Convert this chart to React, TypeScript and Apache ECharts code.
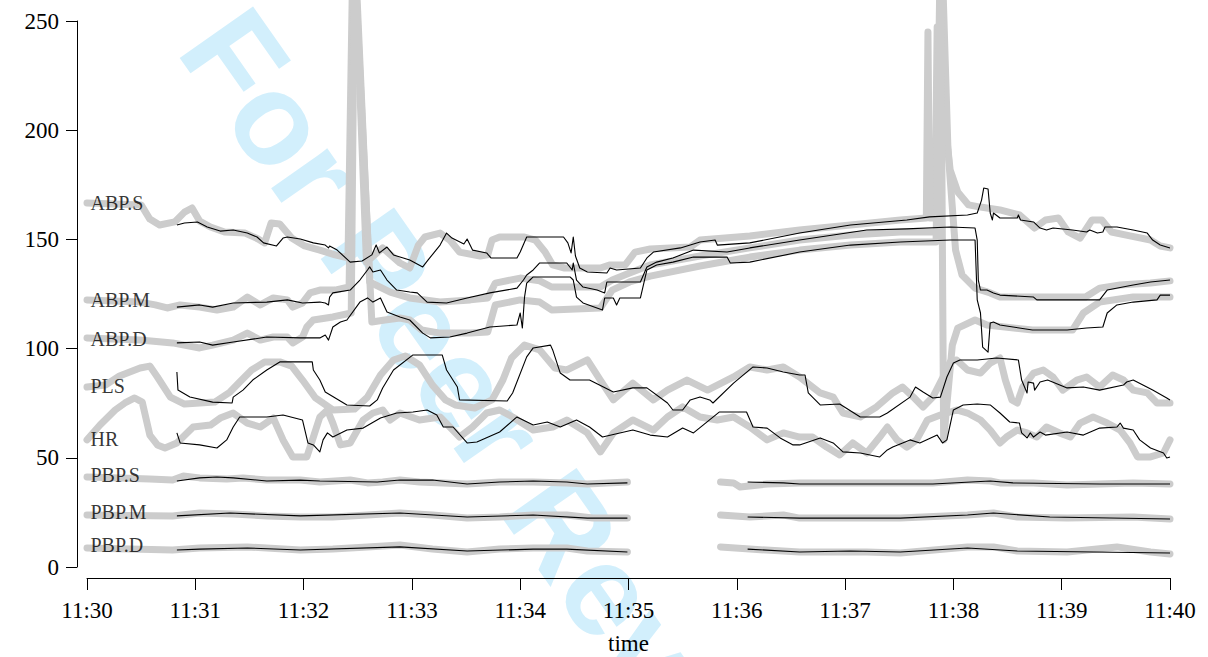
import React, { useEffect, useRef } from "react";
import * as echarts from "echarts";

// minutes after 11:30
const timeTickLabels = ["11:30", "11:31", "11:32", "11:33", "11:34", "11:35", "11:36", "11:37", "11:38", "11:39", "11:40"];
const seriesNames = ["ABP.S", "ABP.M", "ABP.D", "PLS", "HR", "PBP.S", "PBP.M", "PBP.D"];
const labelAnchors = [166.7, 122.3, 104.4, 82.7, 58.4, 41.9, 25.2, 10.1];

// ---- raw (gray) series: [minutes, value]
const abpSGray = [[0,166.7],[0.5,165.8],[0.58,159.3],[0.67,156.6],[0.81,158.0],[0.9,162.5],[0.97,164.4],[1.04,158.4],[1.14,155.7],[1.27,153.4],[1.46,152.9],[1.58,150.2],[1.64,148.4],[1.7,157.5],[1.78,157.1],[1.89,150.6],[2.01,147.0],[2.15,145.1],[2.29,142.9],[2.41,141.5],[2.46,296.2],[2.58,139.6],[2.73,146.1],[2.89,139.2],[2.98,136.9],[3.06,147.4],[3.12,151.1],[3.26,152.9],[3.35,149.7],[3.44,144.2],[3.63,142.4],[3.7,142.9],[3.74,149.7],[3.81,151.1],[4.04,151.1],[4.14,149.7],[4.23,144.2],[4.3,138.3],[4.41,136.9],[4.74,136.9],[4.83,138.3],[4.97,138.3],[5.06,144.2],[5.2,145.6],[5.57,146.5],[5.66,149.7],[6.12,151.6],[6.58,154.3],[7.05,156.6],[7.51,158.9],[7.75,159.8],[7.765,245.0],[7.78,159.8],[7.83,159.8],[7.85,247.3],[7.92,204.7],[7.97,181.8],[8.04,171.7],[8.14,165.8],[8.25,164.8],[8.43,163.5],[8.61,161.2],[8.75,155.2],[8.85,158.9],[8.97,159.8],[9.06,153.4],[9.17,150.6],[9.28,158.9],[9.37,158.9],[9.46,153.4],[9.63,151.6],[9.82,149.7],[9.91,147.0],[10,146.1]];
const abpMGray = [[0,122.3],[0.49,121.3],[0.63,120.0],[0.74,118.6],[0.86,120.0],[1.04,119.0],[1.2,117.7],[1.35,119.0],[1.48,123.6],[1.6,120.0],[1.72,123.2],[1.85,122.3],[1.9,119.0],[1.99,120.9],[2.06,125.5],[2.15,126.8],[2.29,126.8],[2.42,128.2],[2.47,287.1],[2.61,130.5],[2.8,125.9],[2.98,123.2],[3.26,121.3],[3.54,122.3],[3.7,123.2],[3.77,130.0],[4.0,132.3],[4.18,131.0],[4.29,128.2],[4.74,128.2],[4.85,131.4],[5.01,134.6],[5.2,138.3],[5.66,142.4],[6.12,146.1],[6.58,149.7],[7.05,152.0],[7.51,153.4],[7.85,153.4],[7.89,287.1],[7.95,190.9],[8.02,145.1],[8.08,133.7],[8.2,127.7],[8.34,125.5],[8.43,123.6],[9.22,123.6],[9.35,127.7],[9.54,129.1],[9.82,130.0],[10,131.0]];
const abpDGray = [[0,104.9],[0.49,103.9],[0.79,102.6],[1.04,100.3],[1.16,101.6],[1.35,103.9],[1.48,107.1],[1.6,103.9],[1.72,105.3],[1.85,105.3],[1.9,102.6],[1.99,105.3],[2.03,109.9],[2.09,113.1],[2.27,114.5],[2.44,116.3],[2.47,277.9],[2.63,112.2],[2.75,113.1],[2.89,114.0],[2.98,113.1],[3.09,108.5],[3.26,107.1],[3.54,107.1],[3.7,107.6],[3.77,120.0],[4.0,122.3],[4.18,121.3],[4.29,117.7],[4.74,118.6],[4.85,126.8],[5.01,130.5],[5.2,133.2],[5.66,137.8],[6.12,141.9],[6.58,145.1],[7.05,147.4],[7.51,148.8],[7.84,148.8],[7.88,287.1],[7.91,58.2],[7.99,101.6],[8.04,109.4],[8.2,113.1],[8.31,110.8],[8.73,108.5],[9.1,108.5],[9.2,116.3],[9.35,121.3],[9.66,123.6],[10,123.6]];
const plsGray = [[0,82.4],[0.17,83.3],[0.3,87.5],[0.49,91.1],[0.58,92.0],[0.65,87.0],[0.77,77.8],[0.9,74.6],[1.04,75.1],[1.18,75.5],[1.32,80.1],[1.41,84.7],[1.52,90.2],[1.64,93.9],[1.78,93.9],[1.89,92.0],[1.99,85.6],[2.11,77.4],[2.27,71.9],[2.47,72.3],[2.59,77.8],[2.71,87.9],[2.83,94.8],[2.94,96.6],[3.07,92.5],[3.19,83.3],[3.31,76.5],[3.4,74.2],[3.58,72.8],[3.74,76.5],[3.84,85.6],[3.92,95.7],[4.04,101.6],[4.18,99.4],[4.32,91.1],[4.43,90.2],[4.62,94.8],[4.74,85.6],[4.86,76.5],[5.04,84.2],[5.23,76.5],[5.36,81.0],[5.54,85.6],[5.73,81.0],[5.97,87.0],[6.12,91.6],[6.28,90.2],[6.43,91.6],[6.58,87.0],[6.77,79.7],[6.89,77.8],[6.98,70.5],[7.14,68.7],[7.29,73.3],[7.44,79.7],[7.53,82.4],[7.63,77.8],[7.72,73.3],[7.81,77.8],[7.9,86.5],[7.97,93.9],[8.03,94.8],[8.13,90.2],[8.25,88.8],[8.34,93.4],[8.43,95.7],[8.48,85.6],[8.54,76.5],[8.59,75.1],[8.64,82.4],[8.74,88.8],[8.83,90.2],[8.92,87.0],[9.01,81.0],[9.14,85.6],[9.23,87.0],[9.35,82.4],[9.47,87.9],[9.57,85.6],[9.66,81.0],[9.79,79.7],[9.88,75.1],[10,75.1]];
const hrGray = [[0,58.2],[0.12,65.0],[0.26,71.9],[0.35,75.1],[0.44,77.4],[0.51,75.5],[0.58,60.4],[0.65,55.9],[0.72,54.5],[0.83,56.8],[0.98,64.1],[1.14,65.0],[1.23,68.2],[1.35,70.5],[1.48,65.9],[1.6,64.1],[1.72,68.2],[1.81,58.2],[1.9,50.4],[2.03,50.4],[2.09,59.5],[2.15,68.7],[2.22,71.9],[2.27,65.9],[2.34,55.9],[2.43,56.8],[2.55,67.3],[2.64,70.5],[2.73,71.9],[2.8,67.3],[2.89,70.5],[3.07,67.3],[3.26,68.7],[3.44,59.5],[3.56,64.1],[3.69,70.5],[3.81,71.9],[3.93,68.7],[4.12,62.7],[4.3,64.1],[4.43,67.3],[4.62,61.4],[4.74,52.7],[4.86,61.4],[5.04,67.3],[5.23,62.7],[5.36,68.7],[5.5,73.3],[5.66,68.7],[5.82,67.3],[5.97,68.7],[6.12,64.1],[6.28,58.2],[6.43,61.4],[6.58,59.5],[6.7,59.5],[6.83,54.9],[6.95,51.3],[7.07,56.8],[7.2,52.2],[7.32,59.5],[7.39,64.1],[7.48,58.2],[7.57,54.9],[7.66,58.2],[7.76,67.3],[7.88,69.6],[8.03,71.9],[8.13,70.5],[8.25,67.3],[8.34,62.7],[8.43,56.8],[8.49,59.5],[8.59,62.7],[8.68,61.4],[8.77,59.5],[8.86,64.1],[8.98,61.4],[9.08,59.5],[9.17,65.9],[9.29,68.7],[9.42,65.9],[9.54,62.7],[9.63,56.8],[9.7,50.4],[9.82,50.4],[9.94,52.2],[10,58.2]];
const pbpSGrayA = [[0,41.2],[0.3,40.8],[0.58,40.3],[0.79,39.8],[0.89,41.7],[1.04,40.8],[1.29,40.3],[1.44,40.8],[1.66,39.8],[1.97,39.8],[2.15,38.9],[2.43,39.8],[2.59,38.5],[2.73,38.9],[2.89,39.8],[3.07,38.9],[3.29,38.5],[3.51,38.0],[3.81,38.9],[4.12,38.9],[4.43,38.5],[4.62,38.0],[4.8,38.5],[4.99,38.9]];
const pbpSGrayB = [[5.85,38.9],[5.97,38.5],[6.03,36.6],[6.28,38.0],[6.58,38.5],[7.05,38.5],[7.51,38.5],[7.81,38.5],[8.13,39.8],[8.34,39.4],[8.43,38.5],[8.74,38.5],[9.05,37.5],[9.35,38.0],[9.66,38.5],[10,38.0]];
const pbpMGrayA = [[0,23.8],[0.79,23.4],[1.04,24.7],[1.35,24.3],[1.66,23.4],[1.97,22.9],[2.27,22.9],[2.59,23.8],[2.89,24.7],[3.19,23.8],[3.51,22.4],[3.81,22.9],[4.12,23.8],[4.43,23.8],[4.67,22.4],[4.99,22.4]];
const pbpMGrayB = [[5.85,23.8],[6.12,22.9],[6.43,23.8],[6.58,22.4],[7.51,22.4],[8.13,23.8],[8.37,24.7],[8.59,22.9],[9.05,22.4],[9.66,22.9],[10,22.0]];
const pbpDGrayA = [[0,8.7],[0.79,7.8],[1.04,8.7],[1.48,9.2],[1.97,7.8],[2.27,8.2],[2.59,9.2],[2.89,10.1],[3.19,8.2],[3.51,6.9],[3.81,8.2],[4.12,8.7],[4.43,8.7],[4.62,7.3],[4.99,6.9]];
const pbpDGrayB = [[5.85,9.2],[6.12,8.2],[6.58,6.9],[7.2,6.9],[7.51,6.4],[8.13,9.2],[8.37,9.2],[8.59,7.3],[9.05,6.9],[9.51,9.2],[9.82,6.9],[10,6.0]];

// ---- estimated (black) series
const abpSBlack = [[0.83,156.6],[0.9,157.5],[1.02,158.0],[1.11,155.7],[1.23,153.8],[1.35,154.3],[1.48,152.9],[1.57,151.1],[1.63,148.4],[1.75,147.0],[1.81,150.6],[1.85,151.1],[1.97,150.2],[2.09,148.4],[2.2,147.4],[2.23,146.1],[2.24,147.0],[2.31,145.1],[2.43,139.6],[2.54,140.1],[2.63,142.9],[2.67,147.4],[2.7,143.8],[2.77,146.5],[2.83,142.9],[2.98,140.6],[3.1,137.4],[3.15,140.6],[3.26,147.4],[3.32,152.9],[3.37,150.6],[3.48,147.9],[3.51,150.2],[3.56,145.1],[3.69,143.8],[3.73,141.5],[3.97,141.5],[4.0,144.2],[4.06,151.1],[4.4,151.1],[4.44,148.4],[4.47,143.8],[4.49,151.1],[4.51,142.4],[4.55,136.9],[4.62,135.1],[4.8,134.6],[4.83,136.9],[4.89,136.0],[5.11,136.9],[5.17,141.5],[5.23,144.2],[5.48,146.1],[5.66,148.8],[5.8,149.7],[5.82,147.4],[6.12,148.4],[6.58,152.9],[7.05,156.6],[7.57,158.9],[7.78,160.3],[8.13,161.2],[8.22,162.1],[8.26,168.0],[8.28,173.5],[8.32,173.1],[8.34,162.1],[8.36,158.9],[8.37,162.1],[8.43,159.8],[8.59,159.8],[8.6,161.2],[8.62,158.9],[8.74,158.0],[8.8,155.2],[8.86,154.3],[8.92,155.2],[9.1,154.3],[9.23,153.4],[9.26,154.3],[9.33,152.9],[9.38,153.4],[9.4,155.7],[9.51,155.7],[9.66,154.3],[9.79,152.9],[9.84,149.7],[9.91,147.4],[10,146.1]];
const abpMBlack = [[0.83,119.0],[1.04,120.0],[1.16,119.0],[1.35,120.9],[1.66,121.3],[1.85,122.3],[1.99,120.9],[2.15,121.3],[2.2,120.9],[2.23,120.0],[2.24,123.6],[2.27,125.5],[2.43,126.8],[2.52,131.4],[2.59,136.0],[2.61,137.4],[2.64,135.1],[2.71,136.0],[2.77,131.4],[2.86,126.8],[2.98,125.9],[3.05,125.5],[3.14,121.3],[3.32,120.9],[3.51,123.2],[3.72,125.5],[3.97,127.7],[4.03,131.4],[4.06,133.7],[4.12,136.0],[4.18,139.2],[4.43,139.2],[4.48,136.0],[4.49,139.2],[4.52,131.4],[4.58,128.2],[4.71,126.8],[4.78,125.5],[4.8,130.5],[4.89,130.5],[5.11,130.5],[5.17,137.4],[5.26,139.6],[5.41,141.5],[5.6,145.1],[5.91,144.2],[6.12,146.1],[6.58,149.7],[6.89,152.0],[7.2,154.3],[7.57,154.8],[7.97,155.7],[8.2,155.2],[8.22,149.7],[8.23,131.4],[8.25,126.8],[8.31,126.8],[8.37,125.5],[8.43,124.5],[8.74,123.6],[8.77,122.3],[9.35,122.3],[9.42,126.8],[9.66,129.1],[9.82,130.5],[10,131.4]];
const abpDBlack = [[0.83,102.6],[1.04,103.0],[1.16,101.6],[1.35,103.0],[1.66,105.3],[1.97,104.9],[2.15,104.9],[2.2,106.2],[2.23,103.9],[2.27,109.9],[2.34,112.2],[2.4,113.1],[2.52,121.3],[2.59,123.2],[2.64,121.3],[2.71,123.2],[2.77,116.8],[2.89,114.5],[2.98,113.1],[3.1,107.1],[3.17,104.9],[3.35,105.3],[3.51,107.1],[3.72,109.9],[3.97,110.8],[4.0,116.3],[4.02,109.4],[4.04,123.6],[4.06,130.0],[4.09,131.4],[4.12,132.8],[4.46,132.8],[4.49,131.4],[4.52,123.6],[4.58,120.9],[4.76,117.7],[4.78,123.2],[4.86,123.2],[4.89,120.0],[4.92,123.2],[5.11,123.2],[5.17,136.0],[5.26,138.3],[5.41,139.6],[5.6,141.9],[5.91,141.9],[5.94,139.2],[6.12,139.6],[6.58,144.2],[7.05,147.4],[7.51,148.8],[7.97,149.7],[8.2,149.7],[8.22,122.3],[8.25,116.3],[8.27,100.7],[8.32,98.4],[8.34,111.7],[8.37,112.2],[8.43,110.8],[8.73,108.5],[9.05,108.5],[9.23,109.4],[9.38,109.9],[9.42,116.3],[9.51,120.0],[9.66,121.3],[9.88,122.3],[9.91,124.5],[10,124.5]];
const plsBlack = [[0.83,89.3],[0.84,81.0],[0.95,77.8],[1.16,75.5],[1.34,75.1],[1.35,77.8],[1.44,81.0],[1.53,85.6],[1.66,90.2],[1.78,93.9],[2.08,93.9],[2.09,90.2],[2.15,85.6],[2.2,80.1],[2.4,74.2],[2.61,73.7],[2.68,76.5],[2.73,82.0],[2.83,90.2],[3.01,97.1],[3.28,97.1],[3.32,90.2],[3.42,82.4],[3.44,76.5],[3.88,76.0],[3.93,79.7],[4.06,96.2],[4.12,100.3],[4.28,101.6],[4.3,99.4],[4.37,88.8],[4.46,85.6],[4.64,85.6],[4.86,80.1],[5.04,82.0],[5.17,82.0],[5.36,75.1],[5.41,71.9],[5.5,71.9],[5.57,76.5],[5.66,77.8],[5.75,76.5],[5.78,75.1],[5.97,84.2],[6.15,91.6],[6.28,91.1],[6.43,89.3],[6.58,87.9],[6.63,87.9],[6.66,79.7],[6.77,74.2],[6.95,74.6],[7.14,68.7],[7.32,68.7],[7.39,70.5],[7.6,77.8],[7.65,82.4],[7.72,80.1],[7.81,77.4],[7.88,77.8],[7.94,87.0],[8.0,93.4],[8.06,94.8],[8.22,94.8],[8.4,95.7],[8.6,94.8],[8.63,85.6],[8.68,79.7],[8.69,84.7],[8.74,84.2],[8.75,81.0],[8.8,84.7],[8.87,85.6],[9.05,82.0],[9.2,82.4],[9.35,81.0],[9.57,83.3],[9.6,84.7],[9.66,85.6],[9.84,81.0],[9.97,77.4],[10,76.5]];
const hrBlack = [[0.83,61.4],[0.86,56.8],[1.04,55.9],[1.2,54.5],[1.29,58.2],[1.35,64.1],[1.41,68.7],[1.66,68.7],[1.81,69.6],[1.99,67.3],[2.04,56.8],[2.09,55.9],[2.15,52.7],[2.18,58.2],[2.22,61.4],[2.27,59.5],[2.4,62.7],[2.55,63.6],[2.71,68.2],[2.86,70.5],[3.01,71.0],[3.14,71.9],[3.23,69.6],[3.29,64.1],[3.38,64.1],[3.51,56.8],[3.6,57.2],[3.81,61.8],[3.97,68.7],[4.12,65.0],[4.25,66.4],[4.37,64.1],[4.52,67.3],[4.64,64.1],[4.76,59.5],[5.04,62.7],[5.2,60.4],[5.36,59.5],[5.5,63.6],[5.6,61.4],[5.84,71.0],[6.09,71.0],[6.15,64.1],[6.28,63.6],[6.4,59.1],[6.52,55.9],[6.58,55.9],[6.77,59.1],[6.89,56.8],[6.98,52.7],[7.14,52.2],[7.32,50.4],[7.39,53.6],[7.44,54.9],[7.6,58.2],[7.69,56.8],[7.81,59.5],[7.85,60.4],[7.9,56.8],[7.94,58.2],[8.0,71.9],[8.09,74.2],[8.22,74.6],[8.34,74.2],[8.43,70.5],[8.52,66.4],[8.61,65.9],[8.63,61.4],[8.68,59.1],[8.71,61.4],[8.74,59.5],[8.8,61.8],[8.85,60.4],[9.05,61.8],[9.2,60.4],[9.35,63.6],[9.51,64.1],[9.54,65.9],[9.57,63.6],[9.66,62.7],[9.72,58.2],[9.82,54.5],[9.94,52.2],[9.97,49.9],[10,50.4]];
const pbpSBlackA = [[0.83,39.4],[1.04,40.8],[1.2,41.2],[1.35,40.8],[1.66,39.4],[1.97,39.8],[2.15,39.4],[2.68,38.9],[2.89,39.8],[3.19,39.8],[3.51,38.0],[3.81,38.9],[4.12,39.4],[4.43,38.9],[4.62,38.0],[4.99,38.5]];
const pbpSBlackB = [[6.1,38.9],[6.43,38.5],[6.58,38.0],[7.05,38.0],[7.81,38.0],[8.34,39.4],[8.55,38.5],[9.35,38.0],[10,38.0]];
const pbpMBlackA = [[0.83,23.4],[1.32,24.7],[1.97,23.4],[2.89,24.7],[3.51,22.9],[4.12,23.8],[4.62,22.4],[4.99,22.4]];
const pbpMBlackB = [[6.1,22.9],[6.58,22.4],[7.51,22.4],[8.13,23.8],[8.37,24.7],[8.89,22.9],[10,22.0]];
const pbpDBlackA = [[0.83,7.8],[1.04,8.2],[1.48,8.7],[1.97,7.8],[2.89,9.2],[3.51,7.3],[4.12,8.2],[4.43,8.2],[4.99,6.9]];
const pbpDBlackB = [[6.1,8.2],[6.58,6.9],[7.05,7.3],[7.51,6.9],[8.13,8.7],[8.59,7.3],[10,6.4]];

const grayList = [abpSGray, abpMGray, abpDGray, plsGray, hrGray, pbpSGrayA, pbpSGrayB, pbpMGrayA, pbpMGrayB, pbpDGrayA, pbpDGrayB];
const blackList = [abpSBlack, abpMBlack, abpDBlack, plsBlack, hrBlack, pbpSBlackA, pbpSBlackB, pbpMBlackA, pbpMBlackB, pbpDBlackA, pbpDBlackB];

const SERIF = "'Liberation Serif', 'Times New Roman', serif";

export default function App() {
  const ref = useRef<HTMLDivElement>(null);
  useEffect(() => {
    document.body.style.margin = "0";
    const chart = echarts.init(ref.current as HTMLDivElement, undefined, { renderer: "svg" });
    const series: any[] = [];
    grayList.forEach((d) => {
      series.push({
        type: "line", data: d, symbol: "none", showSymbol: false, clip: false, silent: true, z: 2,
        lineStyle: { color: "#cccccc", width: 7, cap: "round", join: "round" },
      });
    });
    blackList.forEach((d) => {
      series.push({
        type: "line", data: d, symbol: "none", showSymbol: false, clip: false, silent: true, z: 3,
        lineStyle: { color: "#000000", width: 1.1, join: "round" },
      });
    });
    series.push({
      type: "scatter", z: 5, silent: true, symbolSize: 1, itemStyle: { color: "rgba(0,0,0,0)" },
      data: seriesNames.map((n, i) => ({ name: n, value: [0, labelAnchors[i]] })),
      label: { show: true, position: "right", distance: 3, formatter: "{b}", fontSize: 20, color: "#000", fontFamily: SERIF },
    });
    chart.setOption({
      animation: false,
      backgroundColor: "#ffffff",
      grid: { left: 87, right: 38, top: 21, bottom: 90, containLabel: false, outerBoundsMode: "none" },
      xAxis: {
        type: "value", min: 0, max: 10, interval: 1, offset: 11,
        axisLine: { show: true, onZero: false, lineStyle: { color: "#000", width: 1 } },
        axisTick: { show: true, length: 12, lineStyle: { color: "#000", width: 1 } },
        axisLabel: { margin: 21, fontSize: 23, color: "#000", fontFamily: SERIF, showMinLabel: true, showMaxLabel: true,
          formatter: (v: number) => timeTickLabels[Math.round(v)] },
        splitLine: { show: false },
        name: "time", nameLocation: "middle", nameGap: 54,
        nameTextStyle: { fontSize: 23, color: "#000", fontFamily: SERIF },
      },
      yAxis: {
        type: "value", min: 0, max: 250, interval: 50, offset: 10,
        axisLine: { show: true, onZero: false, lineStyle: { color: "#000", width: 1 } },
        axisTick: { show: true, length: 11, lineStyle: { color: "#000", width: 1 } },
        axisLabel: { margin: 18, fontSize: 23, color: "#000", fontFamily: SERIF },
        splitLine: { show: false },
      },
      graphic: [
        {
          type: "text", x: 502, y: 439, rotation: (-55 * Math.PI) / 180, z: 0, silent: true,
          style: {
            text: "For Peer Review", fill: "#d2effc",
            fontSize: 130, fontWeight: "bold", fontFamily: "'Liberation Sans', Arial, sans-serif",
            align: "center", verticalAlign: "middle", textAlign: "center", textVerticalAlign: "middle",
          },
        },
      ],
      series,
    });
    return () => chart.dispose();
  }, []);
  return <div ref={ref} style={{ width: 1208, height: 657 }} />;
}
